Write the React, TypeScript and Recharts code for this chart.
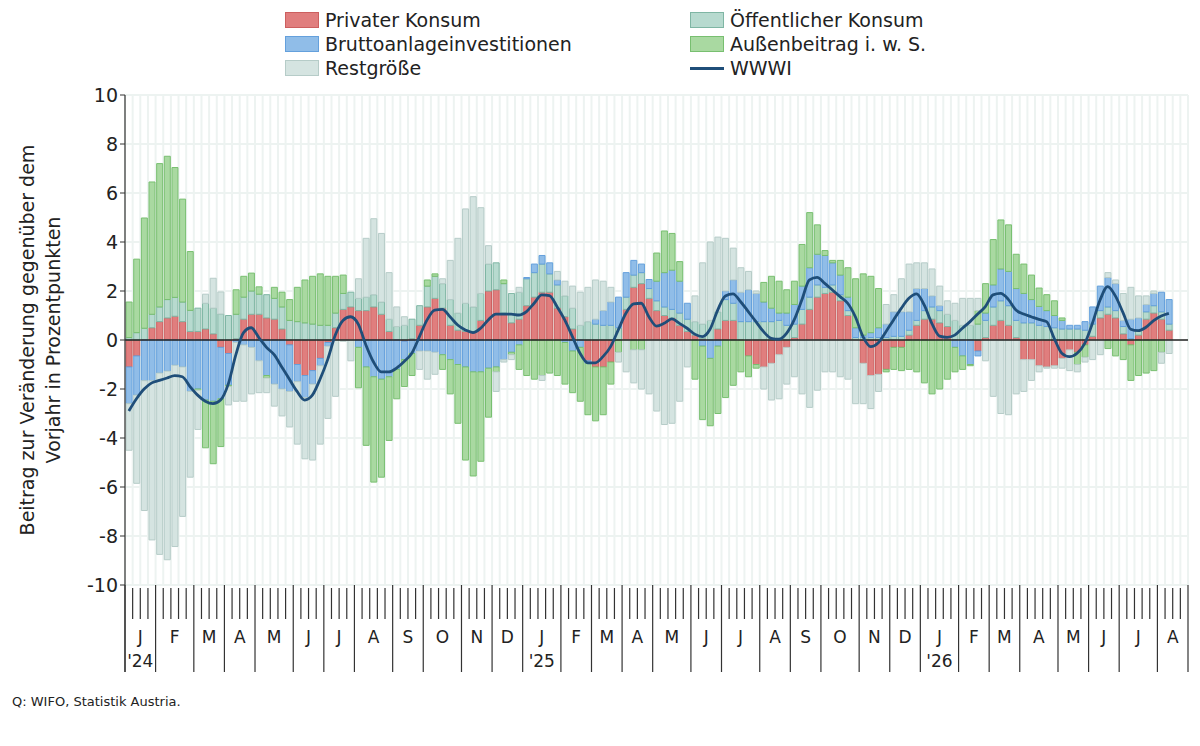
import React from "react";
import { ComposedChart, Bar, Line, XAxis, YAxis, CartesianGrid, ReferenceLine } from "recharts";

const FONT = "'DejaVu Sans', sans-serif";
const N_WEEKS = 139;
const START = Date.UTC(2024, 0, 1);
const MONTH_LETTERS = ["J", "F", "M", "A", "M", "J", "J", "A", "S", "O", "N", "D"];
const Y_TICKS = [-10, -8, -6, -4, -2, 0, 2, 4, 6, 8, 10];

const privat = [-1.1,-0.65,0,0.5,0.75,0.9,0.97,0.75,0.35,0.35,0.45,0.25,-0.3,-0.55,0.05,0.85,1.05,1.05,0.9,0.85,0.45,-0.2,-1.0,-1.45,-1.25,-0.75,-0.1,0.5,1.25,1.35,1.2,1.2,1.35,1.05,0.35,0,-0.05,0.05,0.6,1.35,1.7,1.3,0.6,0.4,0.35,0.35,0.8,2.0,2.05,1.1,0.7,0.85,1.4,1.75,1.95,1.95,1.3,0.95,0.45,0,-0.85,-1.1,-1.1,-0.9,0,1.25,2.15,2.3,1.7,1.2,1.0,0.9,0.6,0.35,0.2,0.05,0,0.45,0.8,0.8,0,-0.65,-1.0,-1.1,-0.95,-0.6,-0.3,0.1,0.65,1.25,1.75,1.9,1.95,1.6,1.0,0,-0.95,-1.45,-1.4,-1.2,-0.3,-0.3,0.2,0.6,0.85,0.85,0.7,0.55,0,0,0,-0.45,0.1,0.6,0.8,0.6,0.1,-0.8,-0.8,-1.05,-1.1,-1.05,-0.75,-0.4,-0.5,-0.2,0.15,0.9,1.05,0.9,0.25,-0.2,0.2,0.85,1.1,0.85,0.4];
const oeffentlich = [0.1,0.3,0.48,0.55,0.6,0.75,0.77,0.8,0.86,0.95,1.05,1.05,1.06,1.0,1.0,0.9,0.95,0.82,0.95,0.85,0.9,0.8,0.75,0.7,0.65,0.6,0.6,0.6,0.65,0.6,0.5,0.55,0.5,0.5,0.5,0.55,0.6,0.8,0.8,0.85,0.9,1.0,1.05,0.7,1.15,1.0,1.1,1.1,1.1,1.2,1.2,1.1,1.1,1.0,1.15,0.75,0.95,0.85,0.85,0.6,0.75,0.65,0.6,0.6,0.5,0.5,0.5,0.45,0.4,0.4,0.35,0.35,0.5,0.5,0.55,0.6,0.8,0.7,0.85,0.7,0.75,0.75,0.75,0.75,0.75,0.8,0.6,0.55,0.6,0.5,0.5,0.25,0.3,0.25,0.2,0.1,0.1,0.1,0.1,0.1,0.15,0.15,0.2,0.2,0.35,0.5,0.5,0.5,0.8,0.6,0.6,0.65,0.7,0.75,0.8,0.8,0.7,0.7,0.7,0.6,0.55,0.5,0.45,0.45,0.45,0.4,0.5,0.3,0.3,0.3,0.3,0.05,0.2,0.3,0.3,0.3,0.25];
const brutto = [-1.5,-1.6,-1.66,-1.66,-1.35,-1.27,-1.03,-1.1,-2.1,-2.0,-2.45,-2.5,-2.1,-1.3,-0.1,-0.2,-0.3,-0.85,-1.45,-1.8,-2.0,-1.9,-0.7,-0.9,-0.55,-0.3,-0.15,0,0,0,-0.3,-1.1,-1.5,-1.6,-1.5,-1.2,-0.75,-0.55,-0.45,-0.45,-0.5,-0.6,-0.8,-1.0,-1.1,-1.3,-1.3,-1.15,-1.1,-0.8,-0.5,-0.2,0.05,0.35,0.35,0.45,0.2,-0.1,-0.45,-0.3,-0.1,0.2,0.6,0.95,1.25,1.0,0.6,0.35,0.37,0.8,1.4,1.6,1.3,0.65,0,-0.25,-0.75,-0.25,0.35,0.95,1.2,1.3,1.15,0.8,0.55,0.3,0.5,0.8,0.95,1.2,1.25,1.3,0.9,0.8,0.55,0.4,0.1,0.2,0.4,0.55,1.0,1.0,0.75,1.3,0.9,0.45,0.2,0,-0.3,-0.65,-1.0,-0.2,0.3,0.9,1.3,1.4,1.3,1.2,0.95,0.77,0.65,0.5,0.35,0.15,0.15,0.35,0.7,1.0,1.2,1.1,0.25,0.8,0.5,0.3,0.5,0.8,1.0];
const aussen = [1.45,3.0,4.5,5.4,5.85,5.85,5.3,4.2,2.4,-0.05,-1.95,-2.55,-1.95,-0.05,1.0,0.85,0.73,0.3,-0.1,0.45,0.6,0.85,1.4,1.75,1.95,2.1,2.0,1.5,0.75,0,-1.65,-3.2,-4.3,-4.0,-2.6,-1.2,-1.1,-0.9,0,0.25,0.1,-0.6,-1.4,-2.4,-3.8,-4.25,-3.65,-2.0,-0.2,0.15,-0.1,-1.0,-1.45,-1.6,-1.45,-1.35,-1.45,-1.7,-1.7,-2.2,-2.1,-2.2,-1.95,-0.9,-0.5,0,-0.4,-0.4,0,1.15,1.7,1.5,0.8,0,-1.6,-3.0,-2.75,-2.75,-2.35,-1.85,-1.3,-0.85,-0.15,0.8,1.3,1.3,0.95,0.95,1.7,2.25,1.2,0.2,0.1,0.6,1.2,2.0,2.5,2.3,1.6,-0.1,-0.9,-0.95,-1.2,-1.3,-1.75,-2.2,-2.0,-1.6,-1.0,-0.55,-0.05,0.55,1.2,1.85,2.0,1.9,1.4,1.2,1.0,0.75,0.65,0.6,0.1,0,-0.5,-0.5,0,0,-0.35,-0.65,-0.8,-1.45,-1.45,-1.35,-1.25,-0.5,0];
const rest = [-1.9,-3.6,-5.3,-6.5,-7.4,-7.7,-7.4,-6.1,-3.5,-1.6,0.37,1.22,0.9,-0.75,-2.4,-2.3,-1.9,-1.3,-0.6,-0.9,-1.1,-1.45,-2.55,-2.5,-3.1,-3.2,-2.95,-2.3,-0.05,-0.85,0.8,2.4,3.1,2.8,1.9,0.8,0.35,0,-0.75,-1.15,-0.9,0.2,1.6,3.05,3.85,4.5,3.5,0.75,-0.8,-0.1,-0.2,0.2,0,0,-0.2,0,0.35,0.6,0.9,1.35,1.4,1.6,1.2,0.6,-0.4,-1.3,-1.35,-1.6,-2.2,-2.9,-3.45,-3.4,-2.5,-1.1,1.05,2.5,3.2,3.05,2.15,1.3,1.0,0.75,0.1,-0.9,-1.5,-1.8,-1.5,-1.5,-2.2,-2.75,-2.05,-1.3,-1.3,-1.5,-1.6,-2.6,-1.65,-1.35,-0.7,0.8,0.7,1.35,1.95,1.05,1.05,1.1,0.8,0.55,0.7,1.1,1.1,0.5,-0.85,-2.3,-3.0,-3.05,-2.2,-1.3,-0.85,-0.25,-0.05,-0.1,-0.4,-0.85,-0.3,-0.2,-0.8,-0.6,0.2,0.15,1.1,1.3,0.9,0.35,0.1,-0.45,-0.55];
const wwwi = [-2.9,-2.4,-2.0,-1.75,-1.65,-1.55,-1.45,-1.5,-1.9,-2.25,-2.5,-2.6,-2.45,-1.8,-0.6,0.3,0.5,0.1,-0.3,-0.6,-1.1,-1.6,-2.1,-2.45,-2.25,-1.6,-0.8,0.2,0.8,0.95,0.65,-0.2,-0.9,-1.3,-1.3,-1.15,-0.88,-0.54,0.14,0.82,1.22,1.25,0.95,0.61,0.41,0.3,0.48,0.82,1.06,1.06,1.06,1.02,1.16,1.5,1.84,1.81,1.36,0.82,0.14,-0.54,-0.93,-0.93,-0.68,-0.27,0.41,1.09,1.47,1.5,0.95,0.57,0.68,0.86,0.68,0.48,0.24,0.14,0.44,1.22,1.8,1.88,1.56,1.16,0.75,0.34,0.07,0.03,0.27,0.82,1.63,2.45,2.56,2.31,2.04,1.77,1.5,0.95,0.14,-0.27,-0.11,0.34,0.82,1.29,1.7,1.88,1.43,0.68,0.16,0.11,0.2,0.48,0.75,1.06,1.36,1.84,1.9,1.66,1.22,1.06,0.95,0.84,0.75,0.07,-0.54,-0.68,-0.54,-0.14,0.68,1.63,2.18,1.8,1.12,0.44,0.38,0.52,0.79,0.98,1.09];

const weekMonth = (i: number) => {
  const d = new Date(START + (i * 7 + 3) * 86400000);
  return { m: d.getUTCMonth(), y: d.getUTCFullYear() };
};

const data = Array.from({ length: N_WEEKS }, (_, i) => ({
  d: i,
  privat: privat[i] ?? null,
  oeffentlich: oeffentlich[i] ?? null,
  brutto: brutto[i] ?? null,
  aussen: aussen[i] ?? null,
  rest: rest[i] ?? null,
  wwwi: wwwi[i] ?? null,
}));

const months: { s: number; e: number; m: number; y: number }[] = [];
for (let i = 0; i < N_WEEKS; i++) {
  const wm = weekMonth(i);
  const last = months[months.length - 1];
  if (!last || last.m !== wm.m || last.y !== wm.y) months.push({ s: i, e: i + 1, m: wm.m, y: wm.y });
  else last.e = i + 1;
}
const monthStart = new Map(months.map((mo) => [mo.s, mo]));

const PLOT_LEFT = 125;
const PLOT_RIGHT = 1188;
const BAND = (PLOT_RIGHT - PLOT_LEFT) / N_WEEKS;
const AX_Y = 585;

const WeekTick = (props: any) => {
  const { x, index } = props;
  const bx = x - BAND / 2;
  const mo = monthStart.get(index);
  const els: any[] = [];
  if (mo) {
    els.push(<line key="s" x1={bx} x2={bx} y1={AX_Y} y2={672} stroke="#333" strokeWidth={1.2} />);
    const cx = bx + (BAND * (mo.e - mo.s)) / 2;
    els.push(
      <text key="t" x={cx} y={643} textAnchor="middle" fontSize={17} fill="#222" fontFamily={FONT}>
        {MONTH_LETTERS[mo.m]}
      </text>
    );
    if (mo.m === 0) {
      els.push(
        <text key="y" x={cx} y={667} textAnchor="middle" fontSize={17} fill="#222" fontFamily={FONT}>
          {"'" + String(mo.y).slice(2)}
        </text>
      );
    }
  } else {
    els.push(<line key="w" x1={bx} x2={bx} y1={AX_Y + 3} y2={619} stroke="#333" strokeWidth={1.2} />);
  }
  if (index === N_WEEKS - 1) {
    els.push(<line key="end" x1={bx + BAND} x2={bx + BAND} y1={AX_Y} y2={672} stroke="#333" strokeWidth={1.2} />);
  }
  return <g>{els}</g>;
};

const legendItems = [
  { label: "Privater Konsum", fill: "#e07e7e", stroke: "#cc5f5f" },
  { label: "Öffentlicher Konsum", fill: "#b7dacf", stroke: "#7fb6a4" },
  { label: "Bruttoanlageinvestitionen", fill: "#90bde8", stroke: "#64a0dc" },
  { label: "Außenbeitrag i. w. S.", fill: "#a9d9a1", stroke: "#78bf70" },
  { label: "Restgröße", fill: "#d5e4e1", stroke: "#b6ccc8" },
];

const LegendBox = () => (
  <div style={{ position: "absolute", left: 0, top: 0, width: 1200, height: 90, fontFamily: FONT, fontSize: 19, color: "#222" }}>
    {[...legendItems, { label: "WWWI", line: true }].map((it: any, i) => {
      const col = i % 2;
      const row = Math.floor(i / 2);
      const left = col === 0 ? 285 : 690;
      const top = 8 + row * 24;
      return (
        <div key={i} style={{ position: "absolute", left, top, display: "flex", alignItems: "center", height: 24, whiteSpace: "nowrap" }}>
          {it.line ? (
            <div style={{ width: 34, height: 3, background: "#1f4e79", marginRight: 6 }} />
          ) : (
            <div style={{ width: 32, height: 14, background: it.fill, border: `1px solid ${it.stroke}`, marginRight: 6 }} />
          )}
          <span>{it.label}</span>
        </div>
      );
    })}
  </div>
);

const YLabel = () => (
  <g>
    <text transform="translate(34,340) rotate(-90)" textAnchor="middle" fontSize={19} fill="#222" fontFamily={FONT}>
      Beitrag zur Veränderung gegenüber dem
    </text>
    <text transform="translate(60,340) rotate(-90)" textAnchor="middle" fontSize={19} fill="#222" fontFamily={FONT}>
      Vorjahr in Prozentpunkten
    </text>
  </g>
);

const series = [
  { key: "privat", ...legendItems[0] },
  { key: "oeffentlich", ...legendItems[1] },
  { key: "brutto", ...legendItems[2] },
  { key: "aussen", ...legendItems[3] },
  { key: "rest", ...legendItems[4] },
];

export default function App() {
  return (
    <div style={{ position: "absolute", left: 0, top: 0, width: 1200, height: 746, background: "#fff" }}>
      <ComposedChart
        width={1200}
        height={746}
        data={data}
        stackOffset="sign"
        barCategoryGap="14%"
        margin={{ top: 95, right: 12, bottom: 74, left: 65 }}
      >
        <CartesianGrid
          stroke="#edf3f1"
          strokeWidth={2}
          verticalCoordinatesGenerator={() =>
            Array.from({ length: N_WEEKS + 1 }, (_, i) => PLOT_LEFT + i * BAND)
          }
        />
        <XAxis dataKey="d" type="category" interval={0} axisLine={false} tickLine={false} tick={<WeekTick />} height={87} />
        <YAxis
          domain={[-10, 10]}
          ticks={Y_TICKS}
          width={60}
          axisLine={{ stroke: "#333", strokeWidth: 1.2 }}
          tickLine={{ stroke: "#333" }}
          tickSize={5}
          tick={{ fontSize: 19, fill: "#222", fontFamily: FONT }}
          tickFormatter={(v: number) => String(v)}
          label={<YLabel />}
        />
        {series.map((s) => (
          <Bar
            key={s.key}
            dataKey={s.key}
            stackId="a"
            fill={s.fill}
            stroke={s.stroke}
            strokeWidth={1}
            isAnimationActive={false}
            legendType="none"
          />
        ))}
        <ReferenceLine y={0} stroke="#222" strokeWidth={1.3} />
        <Line
          dataKey="wwwi"
          type="monotone"
          stroke="#1f4e79"
          strokeWidth={2.8}
          dot={false}
          isAnimationActive={false}
          connectNulls={false}
        />
      </ComposedChart>
      <svg style={{ position: "absolute", left: 0, top: 0, pointerEvents: "none" }} width={1200} height={746}>
        <line x1={PLOT_LEFT} x2={PLOT_LEFT} y1={585} y2={672} stroke="#333" strokeWidth={1.2} />
      </svg>
      <LegendBox />
      <div style={{ position: "absolute", left: 12, top: 694, fontFamily: FONT, fontSize: 13, color: "#222" }}>
        Q: WIFO, Statistik Austria.
      </div>
    </div>
  );
}
